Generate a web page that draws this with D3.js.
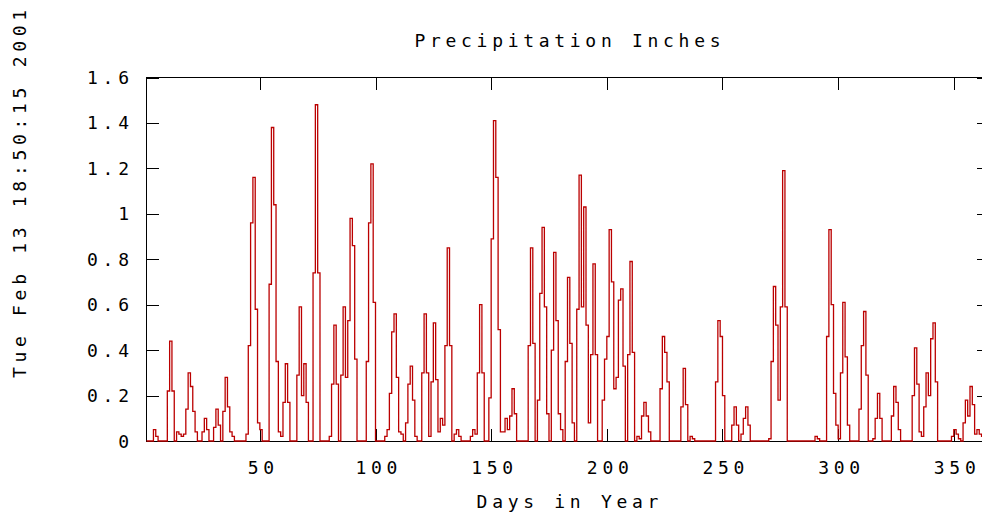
<!DOCTYPE html>
<html><head><meta charset="utf-8">
<script src="https://cdn.jsdelivr.net/npm/d3@7"></script>
<style>
body{margin:0;background:#fff;}
svg text{font-family:"DejaVu Sans Mono",monospace;font-size:18px;fill:#000;}
</style>
</head><body>
<svg id="chart" width="982" height="516"></svg>
<script>
const titleText = "Precipitation Inches";
const xLabelText = "Days in Year";
const dateText = "Tue Feb 13 18:50:15 2001";
const xTicks = [50, 100, 150, 200, 250, 300, 350];
const xTickLabels = ["50", "100", "150", "200", "250", "300", "350"];
const yTicks = [0, 0.2, 0.4, 0.6, 0.8, 1, 1.2, 1.4, 1.6];
const yTickLabels = ["0", "0.2", "0.4", "0.6", "0.8", "1", "1.2", "1.4", "1.6"];
const days = d3.range(1, 366);
const precipitation = [
  0,0,0,0.05,0.02,0,0,0,0,0.22,
  0.44,0.22,0,0.04,0.03,0.02,0.03,0.14,0.30,0.24,
  0.13,0.04,0,0,0.04,0.10,0.05,0,0,0.06,
  0.14,0.07,0,0.13,0.28,0.15,0.04,0.02,0,0,
  0,0,0,0.03,0.42,0.96,1.16,0.58,0.08,0.05,
  0,0,0,0.69,1.38,1.04,0.35,0.04,0.02,0.17,
  0.34,0.17,0,0,0,0.29,0.59,0.20,0.34,0.17,
  0,0,0.74,1.48,0.74,0,0,0,0,0.02,
  0.25,0.51,0.25,0,0.29,0.59,0.28,0.53,0.98,0.86,
  0.36,0,0,0,0,0.35,0.96,1.22,0.61,0,
  0,0,0,0.02,0.05,0.21,0.48,0.56,0.28,0.04,
  0.03,0,0.08,0.25,0.33,0.18,0.02,0,0,0.30,
  0.56,0.30,0.02,0.26,0.52,0.27,0.04,0.10,0.07,0.42,
  0.85,0.42,0,0.03,0.05,0.02,0,0,0,0,
  0.02,0.05,0.03,0.30,0.60,0.30,0,0,0.19,0.89,
  1.41,1.16,0.49,0.04,0.04,0.10,0.05,0.11,0.23,0.12,
  0,0,0,0,0,0.42,0.85,0.43,0,0.18,
  0.65,0.94,0.59,0.12,0,0.40,0.83,0.53,0.12,0.05,
  0,0.35,0.72,0.43,0.08,0,0.58,1.17,0.59,1.03,
  0.51,0.08,0.38,0.78,0.38,0,0,0.18,0.36,0.46,
  0.93,0.70,0.23,0.28,0.62,0.67,0.33,0,0.38,0.79,
  0.39,0,0.02,0.01,0.11,0.17,0.11,0.04,0,0,
  0,0,0.23,0.46,0.39,0.26,0,0,0,0,
  0,0.15,0.32,0.16,0,0.02,0.01,0,0,0,
  0,0,0,0,0,0,0.26,0.53,0.46,0.20,
  0,0,0,0.07,0.15,0.07,0,0.03,0.10,0.15,
  0.07,0,0,0,0,0,0,0,0,0.01,
  0.35,0.68,0.51,0.18,0.59,1.19,0.59,0,0,0,
  0,0,0,0,0,0,0,0,0,0.02,
  0.01,0,0,0,0.46,0.93,0.60,0.21,0.07,0.01,
  0.30,0.61,0.37,0.07,0,0,0,0,0.14,0.42,
  0.57,0.29,0,0,0.01,0.10,0.21,0.10,0,0,
  0,0,0.11,0.24,0.17,0.05,0,0,0,0,
  0,0.20,0.41,0.25,0.04,0.02,0.15,0.30,0.20,0.45,
  0.52,0.26,0,0,0,0,0,0,0.02,0.05,
  0.03,0.01,0,0.08,0.18,0.11,0.24,0.16,0.03,0.05,
  0.03,0.02,0.01,0,0
];

const LS = 4.7; // letter spacing to mimic the wide bitmap font
const plot = {left: 146.5, right: 988.5, top: 77.5, bottom: 441};
const svg = d3.select("#chart");

const x = d3.scaleLinear().domain([1, 365]).range([plot.left, plot.right]);
const y = d3.scaleLinear().domain([0, 1.6]).range([plot.bottom, plot.top]);
const tickLen = 12;

const g = svg.append("g").attr("shape-rendering", "crispEdges");

// border
g.append("rect")
  .attr("x", plot.left).attr("y", plot.top)
  .attr("width", plot.right - plot.left).attr("height", plot.bottom - plot.top)
  .attr("fill", "none").attr("stroke", "#000").attr("stroke-width", 1);

// x ticks (bottom and mirrored top)
xTicks.forEach(t => {
  const xp = Math.round(x(t)) + 0.5;
  g.append("line").attr("x1", xp).attr("x2", xp).attr("y1", plot.bottom).attr("y2", plot.bottom - tickLen).attr("stroke", "#000");
  g.append("line").attr("x1", xp).attr("x2", xp).attr("y1", plot.top).attr("y2", plot.top + tickLen).attr("stroke", "#000");
});
// y ticks (left and mirrored right)
yTicks.forEach(t => {
  const yp = Math.round(y(t)) + 0.5;
  g.append("line").attr("x1", plot.left).attr("x2", plot.left + tickLen).attr("y1", yp).attr("y2", yp).attr("stroke", "#000");
  g.append("line").attr("x1", plot.right).attr("x2", plot.right - tickLen).attr("y1", yp).attr("y2", yp).attr("stroke", "#000");
});

// data as steps
const series = days.map((d, i) => [d, precipitation[i]]);
const line = d3.line()
  .x(d => x(d[0]))
  .y(d => y(d[1]))
  .curve(d3.curveStepAfter);
svg.append("path")
  .datum(series)
  .attr("d", line)
  .attr("fill", "none")
  .attr("stroke", "#bb0000")
  .attr("stroke-width", 1.3);

// tick labels
const txt = svg.append("g").style("letter-spacing", LS + "px");
xTicks.forEach((t, i) => {
  txt.append("text").attr("x", x(t) + LS / 2 + 1).attr("y", 474)
    .attr("text-anchor", "middle").text(xTickLabels[i]);
});
yTicks.forEach((t, i) => {
  txt.append("text").attr("x", 129 + LS).attr("y", y(t) + 6.5)
    .attr("text-anchor", "end").text(yTickLabels[i]);
});

// title and labels
const cx = (plot.left + plot.right) / 2;
txt.append("text").attr("x", cx + LS / 2).attr("y", 47).attr("text-anchor", "middle").text(titleText);
txt.append("text").attr("x", cx + LS / 2).attr("y", 508).attr("text-anchor", "middle").text(xLabelText);
txt.append("text").attr("transform", "translate(26,194) rotate(-90)")
  .attr("x", LS / 2).attr("y", 0).attr("text-anchor", "middle").text(dateText);
</script>
</body></html>
